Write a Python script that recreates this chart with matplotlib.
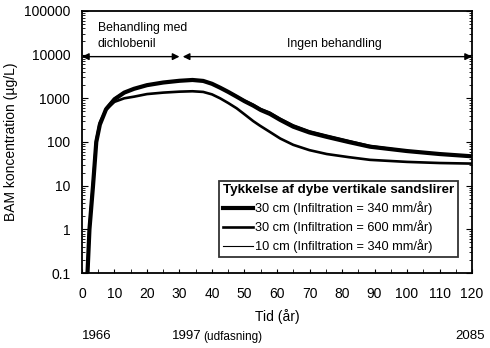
import matplotlib
matplotlib.use("Agg")
import matplotlib.pyplot as plt
from matplotlib.ticker import FixedLocator, LogLocator, NullFormatter, MultipleLocator

plt.rcParams['font.family'] = ['Liberation Sans', 'DejaVu Sans']

# BAM-koncentration (ug/L) over tid (år) for tre scenarier
tid_tyk = [1.7, 2.3, 3.4, 4.4, 5.5, 7.4, 10, 13, 16, 20, 25, 30, 34, 37.3, 40, 42.5, 45, 47.6, 50, 52.7, 55, 57.8, 61, 65, 70, 75.3, 82, 88.6, 100, 110, 120]
konc_30_340 = [0.1, 1, 10, 100, 250, 560, 950, 1350, 1650, 2000, 2300, 2520, 2630, 2500, 2150, 1750, 1400, 1090, 860, 680, 540, 440, 320, 224, 165, 131, 100, 78, 62, 53, 47]

tid_600 = [1.7, 2.3, 3.4, 4.4, 5.5, 7.4, 10, 13, 16, 20, 25, 30, 34, 37.3, 40, 42.5, 45, 47.6, 50, 52.7, 54.8, 57.8, 61, 65, 70, 75.3, 82, 88.6, 100, 110, 120]
konc_30_600 = [0.1, 1.1, 11, 110, 280, 550, 830, 1000, 1090, 1250, 1350, 1420, 1450, 1400, 1230, 1000, 780, 590, 430, 300, 235, 170, 120, 86, 65, 53, 45, 39, 35, 33, 32]

tid_tynd = [1.7, 2.3, 3.4, 4.4, 5.5, 7.4, 10, 13, 16, 20, 25, 30, 34, 37.3, 40, 42.5, 45, 47.6, 50, 52.7, 55, 57.8, 61, 65, 70, 75.3, 82, 88.6, 100, 110, 120]
konc_10_340 = [0.1, 0.9, 8, 85, 270, 620, 1030, 1400, 1650, 1950, 2250, 2480, 2580, 2480, 2170, 1800, 1450, 1150, 920, 740, 590, 490, 355, 250, 182, 145, 110, 84, 64, 52, 45]

y_ticks = [0.1, 1, 10, 100, 1000, 10000, 100000]
y_labels = ["0.1", "1", "10", "100", "1000", "10000", "100000"]

fig = plt.figure(figsize=(4.9, 3.48), dpi=100)
ax = fig.add_axes([0.1673, 0.2155, 0.796, 0.753])

ax.plot(tid_tyk, konc_30_340, color="black", linewidth=3.0,
        label="30 cm (Infiltration = 340 mm/år)")
ax.plot(tid_600, konc_30_600, color="black", linewidth=1.9,
        label="30 cm (Infiltration = 600 mm/år)")
ax.plot(tid_tynd, konc_10_340, color="black", linewidth=0.8,
        label="10 cm (Infiltration = 340 mm/år)")

ax.set_yscale("log")
ax.set_ylim(0.1, 100000)
ax.set_xlim(0, 120)
ax.yaxis.set_major_locator(FixedLocator(y_ticks))
ax.set_yticklabels(y_labels)
ax.yaxis.set_minor_locator(LogLocator(base=10, subs=range(2, 10), numticks=20))
ax.yaxis.set_minor_formatter(NullFormatter())
ax.xaxis.set_major_locator(MultipleLocator(10))
ax.xaxis.set_minor_locator(MultipleLocator(5))

ax.tick_params(axis="both", which="both", direction="in", right=True, labelsize=10)
ax.tick_params(axis="y", which="major", length=4, width=0.8, pad=8.5)
ax.tick_params(axis="y", which="minor", length=2, width=0.6)
ax.tick_params(axis="x", which="major", length=3, pad=10)
ax.tick_params(axis="x", which="minor", length=3)
for s in ax.spines.values():
    s.set_linewidth(1.3)

ax.set_xlabel("Tid (år)", fontsize=10, labelpad=6)
ax.set_ylabel("BAM koncentration (µg/L)", fontsize=10)
ax.yaxis.set_label_coords(-0.165, 0.5)

# perioder med og uden behandling
ax.annotate("", xy=(0, 9000), xytext=(30, 9000),
            arrowprops=dict(arrowstyle="<|-|>", color="black", lw=1.0,
                            shrinkA=0, shrinkB=0, mutation_scale=10))
ax.annotate("", xy=(31, 9000), xytext=(120, 9000),
            arrowprops=dict(arrowstyle="<|-|>", color="black", lw=1.0,
                            shrinkA=0, shrinkB=0, mutation_scale=10), annotation_clip=False)
ax.text(4.9, 12500, "Behandling med\ndichlobenil", fontsize=8.8, ha="left", va="bottom",
        linespacing=1.5)
ax.text(77.5, 12500, "Ingen behandling", fontsize=8.8, ha="center", va="bottom")

leg = ax.legend(loc="lower right", bbox_to_anchor=(0.965, 0.06),
                title="Tykkelse af dybe vertikale sandslirer", fontsize=9.2,
                frameon=True, fancybox=False, edgecolor="black",
                handlelength=2.3, handletextpad=0.15, borderpad=0.3,
                labelspacing=0.4, borderaxespad=0, alignment="left")
leg.get_title().set_fontweight("bold")
leg.get_title().set_fontsize(9.6)
leg.get_frame().set_linewidth(1.3)

# årstal under x-aksen
xt = ax.get_xaxis_transform()
ax.text(0, -0.24, "1966", transform=xt, fontsize=9.5, ha="left", va="center")
ax.text(27.7, -0.24, "1997", transform=xt, fontsize=9.5, ha="left", va="center")
ax.text(37.2, -0.243, "(udfasning)", transform=xt, fontsize=8.5, ha="left", va="center")
ax.text(124, -0.24, "2085", transform=xt, fontsize=9.5, ha="right", va="center")

fig.savefig("out.png", dpi=100)
